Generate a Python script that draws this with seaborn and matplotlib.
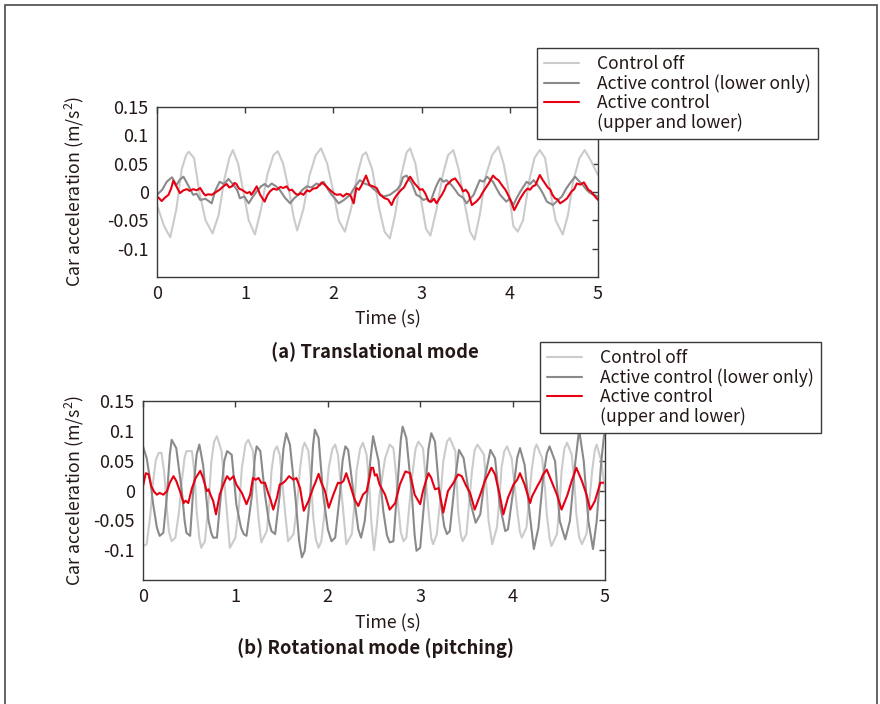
import matplotlib
matplotlib.use("Agg")
import matplotlib.pyplot as plt
import seaborn as sns
from matplotlib.lines import Line2D
from matplotlib.patches import Rectangle

# (time s, acceleration m/s^2)
A_OFF = [(0.0, -0.023), (0.08, -0.06), (0.15, -0.08), (0.22, -0.03), (0.28, 0.04), (0.33, 0.065),
         (0.36, 0.071), (0.42, 0.06), (0.48, 0.0), (0.55, -0.05), (0.63, -0.073), (0.70, -0.04),
         (0.76, 0.02), (0.82, 0.06), (0.86, 0.074), (0.92, 0.05), (0.98, 0.0), (1.04, -0.05),
         (1.11, -0.075), (1.18, -0.03), (1.25, 0.03), (1.32, 0.065), (1.37, 0.072), (1.43, 0.05),
         (1.50, 0.0), (1.55, -0.045), (1.59, -0.068), (1.66, -0.03), (1.73, 0.03), (1.80, 0.065),
         (1.86, 0.077), (1.93, 0.05), (2.00, 0.0), (2.06, -0.05), (2.13, -0.07), (2.20, -0.03),
         (2.27, 0.03), (2.33, 0.065), (2.37, 0.07), (2.44, 0.04), (2.52, -0.03), (2.58, -0.07),
         (2.64, -0.082), (2.70, -0.04), (2.77, 0.03), (2.83, 0.07), (2.87, 0.077), (2.93, 0.05),
         (3.00, -0.02), (3.05, -0.065), (3.10, -0.077), (3.17, -0.03), (3.24, 0.03), (3.30, 0.065),
         (3.36, 0.074), (3.42, 0.04), (3.50, -0.03), (3.55, -0.07), (3.60, -0.084), (3.66, -0.04),
         (3.73, 0.03), (3.80, 0.065), (3.87, 0.08), (3.93, 0.05), (3.99, 0.0), (4.04, -0.06),
         (4.09, -0.07), (4.15, -0.05), (4.22, 0.02), (4.28, 0.06), (4.34, 0.074), (4.40, 0.06),
         (4.46, 0.0), (4.52, -0.05), (4.60, -0.075), (4.66, -0.04), (4.72, 0.02), (4.79, 0.06),
         (4.85, 0.074), (4.92, 0.055), (5.00, 0.03)]

A_LOWER = [(0.0, -0.005), (0.06, 0.004), (0.11, 0.018), (0.17, 0.026), (0.22, 0.012), (0.26, 0.022),
           (0.30, 0.027), (0.36, 0.010), (0.41, -0.005), (0.45, -0.003), (0.49, -0.014), (0.55, -0.012),
           (0.62, -0.020), (0.66, 0.002), (0.71, 0.018), (0.76, 0.014), (0.81, 0.023), (0.87, 0.012),
           (0.91, 0.003), (0.94, -0.011), (0.99, -0.008), (1.04, -0.020), (1.08, -0.010), (1.13, 0.001),
           (1.18, 0.010), (1.22, 0.014), (1.26, 0.009), (1.30, 0.015), (1.35, 0.010), (1.39, 0.004),
           (1.45, -0.010), (1.51, -0.020), (1.55, -0.012), (1.60, -0.005), (1.65, 0.004), (1.70, 0.010),
           (1.75, 0.008), (1.81, 0.015), (1.85, 0.012), (1.89, 0.018), (1.94, 0.004), (1.98, -0.005),
           (2.02, -0.012), (2.06, -0.020), (2.12, -0.014), (2.19, -0.005), (2.24, 0.008), (2.30, 0.021),
           (2.35, 0.015), (2.41, 0.012), (2.45, 0.006), (2.49, 0.001), (2.53, -0.004), (2.57, -0.008),
           (2.64, -0.005), (2.72, 0.004), (2.76, 0.012), (2.79, 0.026), (2.83, 0.029), (2.89, 0.015),
           (2.94, -0.005), (2.98, -0.008), (3.02, -0.014), (3.06, -0.012), (3.10, -0.018), (3.14, 0.000),
           (3.17, 0.012), (3.21, 0.024), (3.25, 0.018), (3.28, 0.021), (3.34, 0.012), (3.38, 0.004),
           (3.42, -0.005), (3.47, -0.010), (3.51, -0.020), (3.55, -0.012), (3.59, -0.005), (3.63, 0.010),
           (3.66, 0.021), (3.70, 0.018), (3.74, 0.027), (3.81, 0.018), (3.85, 0.006), (3.89, -0.005),
           (3.96, -0.017), (4.00, -0.012), (4.04, -0.023), (4.08, -0.010), (4.12, 0.001), (4.19, 0.018),
           (4.23, 0.014), (4.27, 0.021), (4.34, 0.007), (4.38, -0.004), (4.42, -0.017), (4.49, -0.023),
           (4.54, -0.015), (4.59, -0.008), (4.64, 0.006), (4.68, 0.015), (4.74, 0.027), (4.78, 0.020),
           (4.83, 0.012), (4.87, 0.004), (4.91, -0.002), (5.0, -0.008)]

A_BOTH = [(0.0, -0.008), (0.03, -0.012), (0.053, -0.016), (0.09, -0.010), (0.13, -0.005), (0.16, 0.006),
          (0.185, 0.020), (0.22, 0.010), (0.26, -0.002), (0.30, 0.003), (0.34, 0.005), (0.37, 0.002),
          (0.41, 0.005), (0.45, 0.003), (0.49, 0.007), (0.525, -0.002), (0.55, -0.006), (0.58, -0.004),
          (0.62, -0.005), (0.65, -0.002), (0.68, 0.001), (0.71, 0.004), (0.73, 0.007), (0.76, 0.011),
          (0.79, 0.014), (0.82, 0.008), (0.85, 0.010), (0.88, 0.016), (0.90, 0.014), (0.93, 0.006),
          (0.96, 0.004), (0.99, 0.001), (1.02, -0.002), (1.05, 0.000), (1.07, -0.005), (1.10, 0.002),
          (1.13, 0.010), (1.15, 0.003), (1.17, -0.005), (1.22, -0.017), (1.25, -0.006), (1.28, 0.001),
          (1.32, 0.006), (1.36, 0.004), (1.40, 0.009), (1.43, 0.007), (1.47, 0.010), (1.50, 0.003),
          (1.53, 0.004), (1.57, -0.003), (1.60, -0.005), (1.63, -0.002), (1.66, -0.005), (1.70, 0.003),
          (1.73, 0.001), (1.77, 0.006), (1.81, 0.007), (1.84, 0.012), (1.87, 0.017), (1.92, 0.010),
          (1.95, 0.005), (1.98, 0.001), (2.01, -0.003), (2.04, -0.005), (2.08, -0.004), (2.11, -0.008),
          (2.15, -0.003), (2.19, -0.005), (2.23, -0.020), (2.26, 0.007), (2.29, 0.004), (2.32, 0.012),
          (2.37, 0.029), (2.41, 0.012), (2.45, 0.010), (2.49, 0.007), (2.53, -0.005), (2.58, -0.011),
          (2.62, -0.013), (2.66, -0.023), (2.69, -0.012), (2.72, -0.005), (2.77, 0.004), (2.80, 0.008),
          (2.83, 0.017), (2.87, 0.027), (2.92, 0.015), (2.95, 0.010), (2.98, 0.004), (3.01, 0.005),
          (3.04, -0.002), (3.08, -0.016), (3.11, -0.017), (3.14, -0.012), (3.17, -0.020), (3.20, -0.012),
          (3.23, -0.005), (3.26, 0.004), (3.28, 0.012), (3.31, 0.016), (3.34, 0.021), (3.38, 0.024),
          (3.42, 0.015), (3.45, 0.008), (3.47, 0.001), (3.50, 0.004), (3.53, -0.002), (3.57, -0.023),
          (3.62, -0.017), (3.66, -0.010), (3.70, 0.001), (3.73, 0.008), (3.76, 0.015), (3.81, 0.029),
          (3.84, 0.024), (3.87, 0.021), (3.92, 0.010), (3.95, 0.004), (3.98, -0.005), (4.01, -0.015),
          (4.05, -0.032), (4.09, -0.020), (4.12, -0.011), (4.17, 0.001), (4.20, 0.006), (4.23, 0.004),
          (4.26, 0.010), (4.29, 0.012), (4.34, 0.030), (4.37, 0.022), (4.40, 0.015), (4.43, 0.008),
          (4.46, 0.004), (4.48, -0.004), (4.51, -0.011), (4.54, -0.013), (4.57, -0.020), (4.61, -0.016),
          (4.65, -0.011), (4.70, 0.001), (4.73, 0.005), (4.76, 0.015), (4.80, 0.013), (4.84, 0.017),
          (4.87, 0.009), (4.89, 0.004), (4.92, 0.001), (4.95, -0.005), (5.0, -0.014)]

B_OFF = [(0.0, -0.093), (0.04, -0.090), (0.08, -0.040), (0.11, 0.016), (0.14, 0.052), (0.17, 0.063),
         (0.20, 0.063), (0.23, 0.030), (0.26, -0.034), (0.28, -0.068), (0.31, -0.085), (0.35, -0.079),
         (0.39, -0.035), (0.42, 0.016), (0.45, 0.055), (0.47, 0.066), (0.53, 0.066), (0.56, 0.025),
         (0.58, -0.034), (0.61, -0.080), (0.63, -0.096), (0.67, -0.085), (0.71, -0.020), (0.74, 0.049),
         (0.77, 0.082), (0.80, 0.091), (0.85, 0.066), (0.88, 0.015), (0.91, -0.040), (0.94, -0.096),
         (1.00, -0.079), (1.04, -0.025), (1.07, 0.038), (1.11, 0.078), (1.14, 0.085), (1.19, 0.066),
         (1.22, 0.010), (1.25, -0.046), (1.28, -0.087), (1.34, -0.068), (1.37, -0.020), (1.39, 0.032),
         (1.42, 0.066), (1.45, 0.074), (1.48, 0.060), (1.51, 0.010), (1.54, -0.040), (1.57, -0.085),
         (1.63, -0.073), (1.67, -0.020), (1.70, 0.038), (1.73, 0.072), (1.75, 0.080), (1.79, 0.066),
         (1.82, 0.015), (1.84, -0.040), (1.87, -0.082), (1.90, -0.096), (1.93, -0.085), (1.97, -0.030),
         (2.01, 0.038), (2.05, 0.070), (2.08, 0.077), (2.11, 0.060), (2.14, 0.010), (2.17, -0.040),
         (2.20, -0.090), (2.26, -0.073), (2.29, -0.020), (2.31, 0.032), (2.35, 0.070), (2.38, 0.080),
         (2.42, 0.060), (2.45, 0.005), (2.47, -0.051), (2.50, -0.100), (2.53, -0.060), (2.56, -0.007),
         (2.62, 0.054), (2.67, 0.077), (2.71, 0.071), (2.74, 0.025), (2.76, -0.023), (2.79, -0.070),
         (2.82, -0.085), (2.85, -0.079), (2.88, -0.030), (2.91, 0.021), (2.95, 0.070), (2.98, 0.082),
         (3.03, 0.071), (3.06, 0.020), (3.09, -0.034), (3.12, -0.080), (3.14, -0.090), (3.18, -0.073),
         (3.22, -0.010), (3.25, 0.049), (3.29, 0.082), (3.32, 0.088), (3.38, 0.066), (3.41, -0.034),
         (3.44, -0.075), (3.46, -0.085), (3.50, -0.073), (3.53, -0.020), (3.56, 0.032), (3.59, 0.068),
         (3.62, 0.077), (3.69, 0.060), (3.72, 0.000), (3.74, -0.051), (3.78, -0.090), (3.83, -0.062),
         (3.86, -0.010), (3.88, 0.038), (3.91, 0.066), (3.94, 0.074), (3.99, 0.054), (4.02, 0.010),
         (4.05, -0.034), (4.08, -0.070), (4.10, -0.079), (4.15, -0.062), (4.18, -0.010), (4.21, 0.038),
         (4.24, 0.070), (4.26, 0.077), (4.32, 0.054), (4.35, 0.005), (4.37, -0.040), (4.40, -0.080),
         (4.42, -0.093), (4.48, -0.073), (4.51, -0.020), (4.53, 0.032), (4.56, 0.070), (4.59, 0.080),
         (4.64, 0.060), (4.67, 0.010), (4.69, -0.040), (4.72, -0.078), (4.75, -0.090), (4.80, -0.073),
         (4.83, -0.020), (4.86, 0.032), (4.89, 0.068), (4.91, 0.077), (4.96, 0.049), (5.0, 0.0)]

B_LOWER = [(0.0, 0.074), (0.04, 0.054), (0.08, 0.015), (0.11, -0.023), (0.15, -0.062), (0.18, -0.076),
           (0.22, -0.071), (0.26, -0.007), (0.29, 0.060), (0.31, 0.085), (0.36, 0.071), (0.39, 0.035),
           (0.42, -0.001), (0.45, -0.050), (0.47, -0.071), (0.51, -0.076), (0.54, -0.007), (0.58, 0.060),
           (0.61, 0.077), (0.65, 0.043), (0.71, -0.051), (0.74, -0.072), (0.76, -0.079), (0.80, -0.079),
           (0.85, 0.004), (0.88, 0.050), (0.91, 0.066), (0.96, 0.060), (1.01, -0.023), (1.06, -0.062),
           (1.09, -0.073), (1.12, -0.076), (1.18, -0.007), (1.21, 0.055), (1.23, 0.074), (1.27, 0.066),
           (1.32, -0.007), (1.36, -0.050), (1.39, -0.068), (1.43, -0.073), (1.48, -0.007), (1.52, 0.070),
           (1.55, 0.096), (1.59, 0.077), (1.65, -0.012), (1.69, -0.085), (1.72, -0.112), (1.75, -0.101),
           (1.81, -0.007), (1.84, 0.075), (1.86, 0.102), (1.90, 0.088), (1.95, -0.007), (2.00, -0.065),
           (2.04, -0.085), (2.08, -0.079), (2.13, -0.007), (2.16, 0.050), (2.19, 0.074), (2.22, 0.068),
           (2.28, -0.007), (2.33, -0.065), (2.36, -0.079), (2.40, -0.051), (2.46, 0.049), (2.49, 0.091),
           (2.55, 0.049), (2.60, -0.034), (2.64, -0.075), (2.67, -0.087), (2.71, -0.085), (2.76, 0.021),
           (2.79, 0.085), (2.81, 0.107), (2.85, 0.088), (2.91, -0.007), (2.94, -0.075), (2.96, -0.101),
           (3.00, -0.096), (3.05, -0.007), (3.09, 0.070), (3.12, 0.096), (3.16, 0.082), (3.21, -0.007),
           (3.26, -0.060), (3.29, -0.073), (3.32, -0.068), (3.38, 0.021), (3.42, 0.068), (3.47, 0.054),
           (3.54, -0.018), (3.60, -0.054), (3.65, -0.040), (3.70, 0.021), (3.76, 0.068), (3.81, 0.054),
           (3.86, -0.023), (3.92, -0.068), (3.95, -0.065), (4.01, 0.004), (4.05, 0.055), (4.08, 0.071),
           (4.13, 0.043), (4.19, -0.046), (4.23, -0.098), (4.28, -0.062), (4.33, 0.021), (4.37, 0.062),
           (4.40, 0.074), (4.46, 0.049), (4.51, -0.051), (4.57, -0.082), (4.62, -0.051), (4.68, 0.049),
           (4.72, 0.102), (4.77, 0.049), (4.82, -0.051), (4.87, -0.098), (4.91, -0.051), (4.96, 0.049),
           (4.99, 0.093)]

B_BOTH = [(0.0, 0.007), (0.03, 0.029), (0.06, 0.027), (0.09, 0.007), (0.12, -0.002), (0.15, -0.007),
          (0.18, -0.004), (0.22, -0.007), (0.26, -0.001), (0.29, 0.013), (0.33, 0.024), (0.36, 0.016),
          (0.40, -0.001), (0.44, -0.021), (0.46, -0.017), (0.49, -0.021), (0.53, 0.004), (0.57, 0.021),
          (0.62, 0.033), (0.65, 0.021), (0.69, -0.001), (0.71, 0.002), (0.73, -0.007), (0.76, -0.018),
          (0.79, -0.040), (0.83, -0.007), (0.87, 0.010), (0.91, 0.024), (0.94, 0.018), (0.98, 0.024),
          (1.01, 0.010), (1.04, 0.003), (1.07, -0.004), (1.12, -0.023), (1.16, -0.007), (1.19, 0.021),
          (1.22, 0.018), (1.25, 0.021), (1.28, 0.013), (1.32, 0.013), (1.36, -0.007), (1.38, -0.015),
          (1.41, -0.032), (1.45, -0.012), (1.48, 0.010), (1.51, 0.012), (1.54, 0.016), (1.58, 0.024),
          (1.63, 0.018), (1.66, 0.021), (1.70, 0.004), (1.74, -0.034), (1.79, -0.018), (1.84, 0.004),
          (1.87, 0.015), (1.90, 0.028), (1.93, 0.013), (1.97, -0.001), (2.01, -0.029), (2.06, -0.007),
          (2.11, 0.013), (2.14, 0.012), (2.17, 0.016), (2.20, 0.029), (2.24, 0.010), (2.29, -0.015),
          (2.33, -0.026), (2.38, -0.007), (2.42, -0.001), (2.45, 0.020), (2.47, 0.038), (2.49, 0.038),
          (2.51, 0.025), (2.53, 0.027), (2.56, 0.010), (2.62, -0.007), (2.67, -0.032), (2.73, -0.021),
          (2.78, 0.010), (2.84, 0.032), (2.89, 0.029), (2.94, -0.007), (3.00, -0.023), (3.03, -0.001),
          (3.06, 0.015), (3.09, 0.029), (3.12, 0.021), (3.16, 0.002), (3.20, 0.004), (3.25, -0.037),
          (3.30, -0.001), (3.33, 0.006), (3.36, 0.013), (3.41, 0.027), (3.45, 0.024), (3.50, 0.007),
          (3.54, -0.004), (3.59, -0.032), (3.65, -0.007), (3.70, 0.016), (3.77, 0.038), (3.81, 0.027),
          (3.86, -0.007), (3.90, -0.040), (3.95, -0.012), (4.01, 0.010), (4.05, 0.018), (4.08, 0.029),
          (4.13, 0.010), (4.19, -0.021), (4.21, -0.010), (4.24, -0.001), (4.27, 0.008), (4.30, 0.016),
          (4.33, 0.027), (4.37, 0.035), (4.42, 0.016), (4.48, -0.007), (4.53, -0.032), (4.59, -0.009),
          (4.64, 0.016), (4.69, 0.038), (4.75, 0.016), (4.80, -0.007), (4.84, -0.032), (4.89, -0.018),
          (4.95, 0.013), (4.98, 0.013)]

LABELS = ["Control off", "Active control (lower only)", "Active control", "(upper and lower)"]
COLORS = ["#cbcbcb", "#8a8a8a", "#e60012"]
X_TICKS = [0, 1, 2, 3, 4, 5]
Y_TICKS = [-0.1, -0.05, 0, 0.05, 0.1, 0.15]
Y_TICK_LABELS = ["-0.1", "-0.05", "0", "0.05", "0.1", "0.15"]
TEXT = "#231815"

sns.set_theme(style="white")
plt.rcParams['font.family'] = ['Noto Sans CJK JP', 'DejaVu Sans']
plt.rcParams['mathtext.fontset'] = 'custom'
plt.rcParams['mathtext.rm'] = 'Noto Sans CJK JP'
plt.rcParams['mathtext.default'] = 'regular'
plt.rcParams['text.color'] = TEXT

fig = plt.figure(figsize=(8.8, 7.04), dpi=100)
fig.patch.set_facecolor("white")
fig.add_artist(Rectangle((5 / 880, -0.1), 872 / 880, 1.1 - 5 / 704, transform=fig.transFigure,
                         fill=False, edgecolor="#4a4a4a", linewidth=1.2))

ax_a = fig.add_axes([157 / 880, 1 - 277 / 704, 441 / 880, 170 / 704])
ax_b = fig.add_axes([143 / 880, 1 - 580 / 704, 462 / 880, 179 / 704])


def draw_panel(ax, series, title, title_y, legend_xy, ylab_x, xlab_x, xlab_y):
    for pts, color in zip(series, COLORS):
        t = [p[0] for p in pts]
        v = [p[1] for p in pts]
        sns.lineplot(x=t, y=v, ax=ax, color=color, linewidth=1.5, estimator=None, sort=False)
    ax.set_xlim(0, 5)
    ax.set_ylim(-0.15, 0.15)
    ax.set_xticks(X_TICKS)
    ax.set_xticklabels([str(x) for x in X_TICKS])
    ax.set_yticks(Y_TICKS)
    ax.set_yticklabels(Y_TICK_LABELS)
    ax.tick_params(direction="in", top=True, right=True, length=4, width=1,
                   labelsize=13, colors="#3a3a3a", labelcolor=TEXT, pad=6)
    for s in ax.spines.values():
        s.set_visible(True)
        s.set_color("#3a3a3a")
        s.set_linewidth(1.0)
    ax.set_xlabel("Time (s)", fontsize=12.8, color=TEXT, va="center")
    ax.xaxis.set_label_coords(xlab_x, xlab_y)
    ax.set_ylabel("Car acceleration (m/s$^2$)", fontsize=12.8, color=TEXT)
    ax.yaxis.set_label_coords(ylab_x, 0.5)
    fig.text(375 / 880, title_y, title, ha="center", va="center",
             fontsize=13.3, fontweight="bold", color=TEXT)

    handles = [Line2D([], [], color=c, linewidth=1.5) for c in COLORS]
    handles.append(Line2D([], [], color="none"))
    leg = ax.legend(handles, LABELS, loc="upper left", bbox_to_anchor=legend_xy,
                    bbox_transform=fig.transFigure, frameon=True, fancybox=False,
                    framealpha=1, edgecolor="#3a3a3a", fontsize=12.6, handlelength=2.0,
                    handletextpad=1.05, labelspacing=0.06, borderpad=0.4, borderaxespad=0)
    leg.get_frame().set_linewidth(1.0)
    for txt in leg.get_texts():
        txt.set_color(TEXT)


draw_panel(ax_a, [A_OFF, A_LOWER, A_BOTH], "(a) Translational mode", 1 - 352 / 704,
           (537 / 880, 1 - 48 / 704), (86 - 157) / 441, (388 - 157) / 441, -(319 - 277) / 170)
draw_panel(ax_b, [B_OFF, B_LOWER, B_BOTH], "(b) Rotational mode (pitching)", 1 - 648 / 704,
           (540 / 880, 1 - 342 / 704), (86 - 143) / 462, (388 - 143) / 462, -(623 - 580) / 179)

fig.savefig("out.png", dpi=100, facecolor="white")
